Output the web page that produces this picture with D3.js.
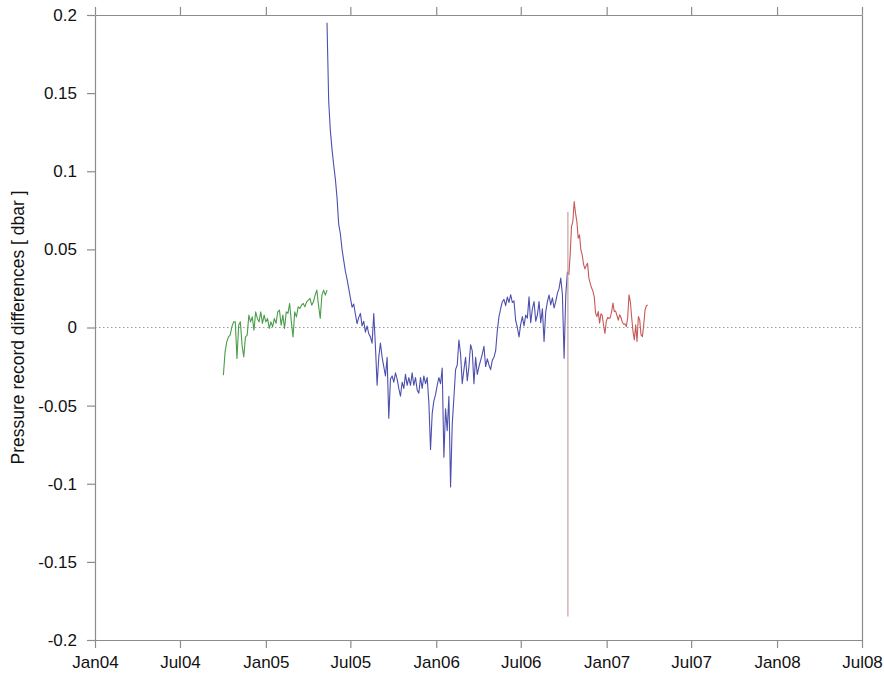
<!DOCTYPE html>
<html>
<head>
<meta charset="utf-8">
<script src="https://cdn.jsdelivr.net/npm/d3@7"></script>
<style>
  body { margin: 0; background: #fff; }
  svg text { font-family: "Liberation Sans", Arial, Helvetica, sans-serif; }
</style>
</head>
<body>
<div id="chart"></div>
<script>
// time range and tick labels
const xDomain = ["2004-01-01", "2008-07-01"];
const yTicks = [-0.2, -0.15, -0.1, -0.05, 0, 0.05, 0.1, 0.15, 0.2];
const yLabel = "Pressure record differences [ dbar ]";

// green record, regular sampling between start and end
const greenStart = "2004-10-02", greenEnd = "2005-05-12";
const greenValues = [
  -0.0305, -0.0156, -0.0092, -0.006, -0.0049, 0.0004, 0.0036, 0.0036, -0.0198, 0.0015,
  0.0036, -0.0113, -0.0188, -0.006, -0.0049, 0.0079, 0.0036, 0.0068, -0.0017, 0.01,
  0.0058, 0.0036, 0.01, 0.0026, 0.0079, 0.0036, 0.0058, -0.0006, 0.0036, 0.0004,
  0.0058, 0.0026, 0.01, 0.0111, 0.0015, 0.0079, -0.0006, 0.01, 0.009, 0.0154,
  0.0036, -0.006, 0.01, 0.0068, 0.0132, 0.0122, 0.0143, 0.0154, 0.0132, 0.0164,
  0.0175, 0.0186, 0.0143, 0.0164, 0.0207, 0.0239, 0.0143, 0.0058, 0.0207, 0.0239,
  0.0207, 0.0239,
];

// blue record
const blueStart = "2005-05-12", blueEnd = "2006-10-09";
const blueValues = [
  0.195, 0.145, 0.126, 0.114, 0.104, 0.095, 0.083, 0.066, 0.06, 0.05,
  0.043, 0.036, 0.031, 0.025, 0.019, 0.013, 0.015, 0.0085, 0.0025, 0.0065,
  0.009, 0.001, 0.004, -0.003, 0.001, -0.004, -0.006, -0.01, 0.009, -0.012,
  -0.037, -0.019, -0.01, -0.019, -0.025, -0.031, -0.019, -0.058, -0.033, -0.031,
  -0.035, -0.029, -0.033, -0.039, -0.044, -0.035, -0.039, -0.03, -0.037, -0.032,
  -0.037, -0.029, -0.037, -0.032, -0.04, -0.042, -0.032, -0.039, -0.031, -0.036,
  -0.032, -0.048, -0.078, -0.055, -0.047, -0.043, -0.037, -0.032, -0.036, -0.026,
  -0.083, -0.052, -0.066, -0.044, -0.102, -0.062, -0.045, -0.027, -0.024, -0.008,
  -0.017, -0.036, -0.027, -0.019, -0.034, -0.025, -0.011, -0.015, -0.036, -0.019,
  -0.03, -0.025, -0.021, -0.017, -0.012, -0.025, -0.02, -0.024, -0.027, -0.021,
  -0.019, -0.015, -0.002, 0.007, 0.012, 0.0165, 0.018, 0.014, 0.0195, 0.016,
  0.021, 0.016, 0.017, 0.0045, 0.0, -0.006, 0.002, 0.007, 0.001, 0.008,
  0.006, 0.0197, 0.003, 0.012, 0.0166, 0.004, 0.008, 0.0166, 0.003, 0.012,
  -0.009, 0.01, 0.0166, 0.0208, 0.0145, 0.019, 0.0125, 0.0166, 0.022, 0.025,
  0.0317, 0.021, -0.0197, 0.0208, 0.0357,
];

// single-day jump at the instrument change
const spikeDate = "2006-10-10";
const spikeValues = [0.074, -0.185];

// red record
const redStart = "2006-10-12", redEnd = "2007-03-30";
const redValues = [
  0.0337, 0.0465, 0.0646, 0.0678, 0.0806, 0.0732, 0.0678, 0.0572, 0.0593, 0.0497,
  0.0465, 0.0405, 0.0375, 0.0395, 0.0412, 0.0316, 0.0282, 0.0254, 0.0233, 0.0198,
  0.0092, 0.007, 0.0102, 0.0028, 0.0087, 0.0077, 0.0013, -0.0038, 0.0038, 0.0064,
  0.0058, 0.0064, 0.0102, 0.0156, 0.0102, 0.0105, 0.0077, 0.0047, 0.0081, 0.0064,
  0.0034, 0.0021, 0.0023, 0.0006, 0.0064, 0.0209, 0.0166, 0.0064, -0.0026, -0.0079,
  0.0017, -0.009, 0.007, 0.0049, -0.0047, -0.0058, 0.0017, 0.0113, 0.0139, 0.0145,
];

const parse = d3.timeParse("%Y-%m-%d");

// spread a record's values evenly over its time span
function series(start, end, values) {
  const t = d3.scaleLinear()
    .domain([0, values.length - 1])
    .range([parse(start).getTime(), parse(end).getTime()]);
  return values.map((v, i) => ({ date: new Date(t(i)), value: v }));
}

const margin = { top: 15, right: 22, bottom: 35, left: 95 },
  width = 884 - margin.left - margin.right,
  height = 675 - margin.top - margin.bottom;

const svg = d3.select("#chart")
  .append("svg")
  .attr("width", 884)
  .attr("height", 675)
  .append("g")
  .attr("transform", `translate(${margin.left}, ${margin.top})`);

const x = d3.scaleTime().domain(xDomain.map(parse)).range([0, width]);
const y = d3.scaleLinear().domain([-0.2, 0.2]).range([height, 0]);

const axisColor = "#8c8c8c";
const fmtMonth = d3.timeFormat("%b%y");
const xTicks = d3.timeMonth.every(6).range(x.domain()[0], d3.timeDay.offset(x.domain()[1], 1));

// zero line
svg.append("line")
  .attr("x1", 0).attr("x2", width)
  .attr("y1", y(0)).attr("y2", y(0))
  .attr("stroke", "#9a9a9a")
  .attr("stroke-width", 1)
  .attr("stroke-dasharray", "1.5,2.5");

// bottom axis
const gx = svg.append("g")
  .attr("transform", `translate(0, ${height})`)
  .call(d3.axisBottom(x).tickValues(xTicks).tickFormat(fmtMonth).tickSize(8).tickSizeOuter(0).tickPadding(8));

// top axis
const gt = svg.append("g")
  .call(d3.axisTop(x).tickValues(xTicks).tickFormat("").tickSize(8).tickSizeOuter(0));

// left axis
const gy = svg.append("g")
  .call(d3.axisLeft(y).tickValues(yTicks).tickFormat((d) => String(+d.toFixed(2)))
    .tickSize(8).tickSizeOuter(0).tickPadding(10));

// right border
const gr = svg.append("g")
  .attr("transform", `translate(${width}, 0)`)
  .call(d3.axisRight(y).tickValues([]).tickSizeOuter(0));

[gx, gt, gy, gr].forEach((g) => {
  g.selectAll("path, line").attr("stroke", axisColor).attr("stroke-width", 1.2);
  g.selectAll("text").attr("fill", "#111").style("font-size", "17px");
});

svg.append("text")
  .attr("transform", `translate(${18 - margin.left}, ${height / 2}) rotate(-90)`)
  .attr("text-anchor", "middle")
  .attr("dy", "0.35em")
  .attr("fill", "#111")
  .style("font-size", "17.5px")
  .text(yLabel);

const line = d3.line().x((d) => x(d.date)).y((d) => y(d.value));

const records = [
  { data: series(greenStart, greenEnd, greenValues), color: "#4a9e4a" },
  { data: series(blueStart, blueEnd, blueValues), color: "#4d4fae" },
  { data: spikeValues.map((v) => ({ date: parse(spikeDate), value: v })), color: "#c09a9a" },
  { data: series(redStart, redEnd, redValues), color: "#c65a5a" },
];

svg.selectAll(".record")
  .data(records)
  .join("path")
  .attr("class", "record")
  .attr("fill", "none")
  .attr("stroke", (d) => d.color)
  .attr("stroke-width", 1.1)
  .attr("stroke-linejoin", "round")
  .attr("d", (d) => line(d.data));
</script>
</body>
</html>
